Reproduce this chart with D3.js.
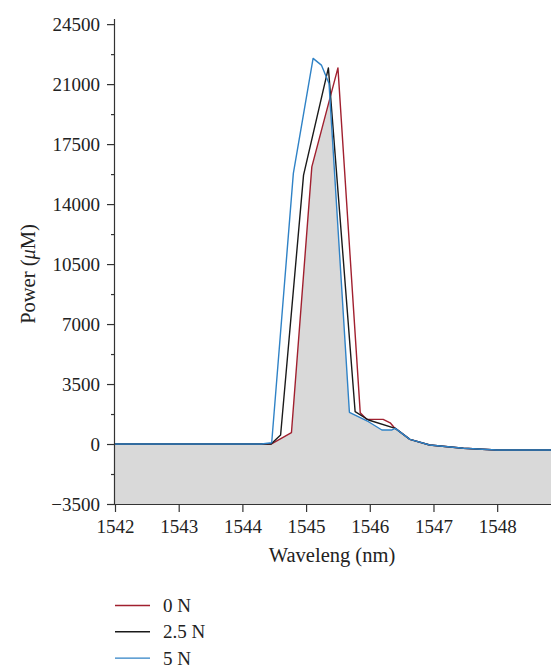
<!DOCTYPE html>
<html>
<head>
<meta charset="utf-8">
<script src="https://cdn.jsdelivr.net/npm/d3@7"></script>
<style>
  body { margin: 0; background: #fff; }
  text { font-family: "Liberation Serif", "Times New Roman", serif; fill: #222; }
</style>
</head>
<body>
<svg id="chart" width="551" height="669"></svg>
<script>
// series data (wavelength nm, power uM)
var x0N  = [1542, 1544.45, 1544.77, 1545.09, 1545.5, 1545.85, 1545.95, 1546.21, 1546.32, 1546.38, 1546.63, 1546.94, 1547.47, 1547.99, 1548.85];
var y0N  = [0,    0,       660,     16170,   21950,  1830,    1440,    1440,    1240,    975,     274,     -58,     -250,    -350,    -350];
var x25N = [1542, 1544.45, 1544.6, 1544.96, 1545.35, 1545.77, 1545.98, 1546.4, 1546.63, 1546.94, 1547.47, 1547.99, 1548.85];
var y25N = [0,    0,       525,    15690,   21950,   1885,    1400,    915,    274,     -58,     -250,    -350,    -350];
var x5N  = [1542, 1544.3, 1544.46, 1544.8, 1545.11, 1545.24, 1545.36, 1545.68, 1545.98, 1546.19, 1546.34, 1546.4, 1546.63, 1546.94, 1547.47, 1547.99, 1548.85];
var y5N  = [0,    0,      76,      15790,  22500,   22110,   21040,   1850,    1300,    817,     817,     915,    274,     -58,     -250,    -350,    -350];

var seriesNames = ["0 N", "2.5 N", "5 N"];
var xTicks = [1542, 1543, 1544, 1545, 1546, 1547, 1548];
var yTicks = [-3500, 0, 3500, 7000, 10500, 14000, 17500, 21000, 24500];
var yMinor = [-1750, 1750, 5250, 8750, 12250, 15750, 19250, 22750];

var colors = ["#a1202f", "#1a1a1a", "#2f82c6"];

var margin = {top: 19, right: 0, bottom: 165, left: 115};
var W = 551, H = 669;
var w = W - margin.left - margin.right;
var h = H - margin.top - margin.bottom;

var svg = d3.select("#chart");
var g = svg.append("g").attr("transform", "translate(" + margin.left + "," + margin.top + ")");

var x = d3.scaleLinear().domain([1542, 1548.845]).range([0, w]);
var y = d3.scaleLinear().domain([-3500, 24800]).range([h, 0]);

var series = [
  {name: seriesNames[0], xs: x0N, ys: y0N},
  {name: seriesNames[1], xs: x25N, ys: y25N},
  {name: seriesNames[2], xs: x5N, ys: y5N}
];
series.forEach(function(s) {
  s.pts = s.xs.map(function(v, i) { return [v, s.ys[i]]; });
  s.interp = d3.scaleLinear().domain(s.xs).range(s.ys).clamp(true);
});

// grey fill = lower envelope of the three curves
var grid = d3.range(1542, 1548.846, 0.002);
series.forEach(function(s) { grid = grid.concat(s.xs); });
grid.sort(d3.ascending);
var envelope = grid.map(function(v) {
  return [v, d3.min(series, function(s) { return s.interp(v); })];
});

g.append("clipPath").attr("id", "clip")
  .append("rect").attr("width", w).attr("height", h);

g.append("path")
  .datum(envelope)
  .attr("clip-path", "url(#clip)")
  .attr("fill", "#d9d9d9")
  .attr("d", d3.area()
    .x(function(d) { return x(d[0]); })
    .y0(y(-3500))
    .y1(function(d) { return y(d[1]); }));

var line = d3.line()
  .x(function(d) { return x(d[0]); })
  .y(function(d) { return y(d[1]); });

g.selectAll(".series")
  .data(series)
  .enter()
  .append("path")
  .attr("clip-path", "url(#clip)")
  .attr("fill", "none")
  .attr("stroke", function(d, i) { return colors[i]; })
  .attr("stroke-width", 1.4)
  .attr("stroke-linejoin", "round")
  .attr("d", function(d) { return line(d.pts); });

// axes
var xAxis = g.append("g")
  .attr("transform", "translate(0," + h + ")")
  .call(d3.axisBottom(x).tickValues(xTicks).tickFormat(d3.format("d")).tickSize(8).tickPadding(8));

var yAxis = g.append("g")
  .call(d3.axisLeft(y).tickValues(yTicks).tickFormat(function(d) {
      return d < 0 ? "\u2212" + Math.abs(d) : d;
    }).tickSize(8).tickPadding(7));

g.append("g")
  .call(d3.axisLeft(y).tickValues(yMinor).tickFormat("").tickSize(4))
  .select(".domain").remove();

g.selectAll(".domain").attr("stroke", "#333").attr("stroke-width", 1.2);
g.selectAll(".tick line").attr("stroke", "#333").attr("stroke-width", 1.2);
g.selectAll(".tick text").style("font-size", "19px").attr("fill", "#222");
xAxis.select(".domain").attr("d", "M0,0.5H" + w);
yAxis.select(".domain").attr("d", "M-0.5," + h + "V0");

// axis titles
var ylab = svg.append("text")
  .attr("transform", "translate(28,274) rotate(-90)")
  .attr("text-anchor", "middle")
  .attr("dy", "0.35em")
  .style("font-size", "20.5px");
ylab.append("tspan").text("Power (");
ylab.append("tspan").style("font-style", "italic").text("\u03bc");
ylab.append("tspan").text("M)");

svg.append("text")
  .attr("x", 332)
  .attr("y", 562)
  .attr("text-anchor", "middle")
  .style("font-size", "20.5px")
  .text("Waveleng (nm)");

// legend
var legend = svg.selectAll(".legend")
  .data(seriesNames)
  .enter()
  .append("g")
  .attr("transform", function(d, i) { return "translate(115," + (605.5 + i * 26.3) + ")"; });

legend.append("line")
  .attr("x1", 0).attr("x2", 35)
  .attr("stroke", function(d, i) { return colors[i]; })
  .attr("stroke-width", 1.4);

legend.append("text")
  .attr("x", 48)
  .attr("dy", "0.35em")
  .style("font-size", "19px")
  .text(function(d) { return d; });
</script>
</body>
</html>
